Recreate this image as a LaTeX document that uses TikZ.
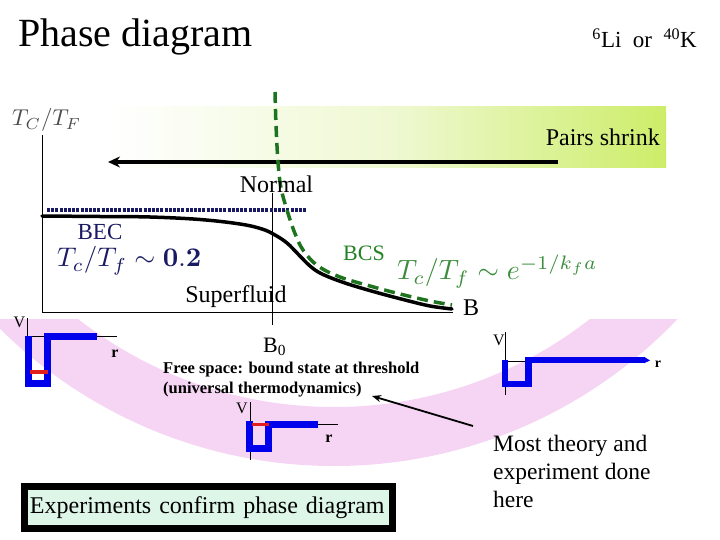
\RequirePackage{fix-cm}
\documentclass[tikz,border=0pt]{standalone}
\usepackage[no-math]{fontspec}
\setmainfont{Liberation Serif}
\usetikzlibrary{arrows.meta}
\definecolor{pinkband}{RGB}{245,213,243}
\definecolor{bandmid}{RGB}{238,248,208}
\definecolor{bandgreen}{RGB}{205,237,105}
\definecolor{navy}{RGB}{25,25,100}
\definecolor{dgreen}{RGB}{30,115,30}
\definecolor{bcsgreen}{RGB}{35,130,35}
\definecolor{mathgreen}{RGB}{60,140,60}
\definecolor{wellblue}{RGB}{0,0,235}
\definecolor{wellred}{RGB}{225,30,30}
\definecolor{mint}{RGB}{222,246,232}
\newcommand\fsz[2]{\fontsize{#1bp}{#2bp}\selectfont}
\newcommand\bigmath[2]{\scalebox{#1}{\fontsize{10pt}{12pt}\selectfont$#2$}}
\tikzset{
  lbl/.style={inner sep=0pt, anchor=base west},
  lblc/.style={inner sep=0pt, anchor=base},
  thin axis/.style={line width=0.8bp, black},
  well/.style={draw=wellblue, line width=7bp, line cap=butt, line join=miter},
  boundlevel/.style={draw=wellred, line width=3.5bp},
}
\begin{document}
\begin{tikzpicture}[x=1bp,y=-1bp]
\useasboundingbox (0,0) rectangle (720,540);
% pink band
\begin{scope}
  \clip (0,319) rectangle (720,540);
  \fill[pinkband,even odd rule] (334,-9) circle[radius=475bp] (334,-9) circle[radius=416bp];
\end{scope}
% green gradient band
\shade[left color=white,right color=bandmid] (110,107) rectangle (401,168);
\shade[left color=bandmid,right color=bandgreen] (400,107) rectangle (666,168);
% titles
\node[lbl,font=\fsz{40}{46}] (title) at (18,47) {Phase diagram};
\node[inner sep=0pt,anchor=base east,font=\fsz{23}{26}] (species) at (697,48) {\textsuperscript{6}Li\ \ or\ \ \textsuperscript{40}K};
% axes
\coordinate (ytop) at (42,135);
\coordinate (orig) at (42,312);
\coordinate (xend) at (453,312);
\draw[line width=1bp] (ytop) -- (orig) -- (xend);
\node[lbl,text=black!70] (ylab) at (12,126) {\bigmath{2.3}{T_C/T_F}};
\node[lbl,font=\fsz{24}{28}] (blab) at (463,315) {B};
% B0 line
\coordinate (b0top) at (272,193);
\coordinate (b0bot) at (272,325);
\draw[line width=0.8bp] (b0top) -- (b0bot);
\node[lbl,font=\fsz{22}{26}] (b0) at (263,352) {B\textsubscript{0}};
% big arrow
\coordinate (arrS) at (558,162);
\coordinate (arrE) at (108,162);
\draw[line width=4.5bp,-{Stealth[length=12bp,width=11bp]}] (arrS) -- (arrE);
\node[inner sep=0pt,anchor=base east,font=\fsz{24}{28}] (pairs) at (660,146) {Pairs shrink};
% dotted line
\coordinate (dotS) at (47,210);
\coordinate (dotE) at (307,210);
\draw[navy,line width=3.5bp,dash pattern=on 3bp off 1.2bp] (dotS) -- (dotE);
% Tc curve
\draw[line width=3.5bp,line cap=round] plot[smooth,tension=0.6] coordinates {(42,216) (100,216.5) (150,217) (200,219.5) (240,224) (262,229) (275,235) (287,243) (298,254) (310,266) (322,274) (345,283) (375,292) (405,300) (430,306) (452,309)};
% BCS dashed curve
\draw[dgreen,line width=3.5bp,dash pattern=on 11bp off 6bp] plot[smooth,tension=0.6] coordinates {(275,92) (276,125) (278,162) (281,188) (287,210) (294,231) (303,250) (318,266) (340,277) (370,286) (400,294) (430,301) (452,305)};
% phase labels
\node[lblc,font=\fsz{24}{28}] (normal) at (276.5,193) {Normal};
\node[lblc,font=\fsz{23}{26},text=navy] (bec) at (100,240) {BEC};
\node[lbl,text=navy] (becf) at (57,267) {\bigmath{2.7}{T_c/T_f\sim \mathbf{0.2}}};
\node[lbl,font=\fsz{22}{26},text=bcsgreen] (bcs) at (343,261) {BCS};
\node[lbl,text=mathgreen] (bcsf) at (397,280) {\bigmath{2.8}{T_c/T_f\sim e^{-1/k_f a}}};
\node[lblc,font=\fsz{24}{28}] (sf) at (236,302) {Superfluid};
% well 1 (left)
\draw[thin axis] (27,318) -- (27,387);
\draw[thin axis] (27,336) -- (117,336);
\draw[well] (28,336) -- (28,383) -- (47,383) -- (47,336) -- (97,336);
\draw[boundlevel] (30,372) -- (48,372);
\node[lblc,font=\fsz{16}{18}] (v1) at (19.5,327) {V};
\node[lblc,font=\fsz{16}{18}\bfseries] (r1) at (115,357) {r};
% well 2 (middle)
\draw[thin axis] (250,402) -- (250,460);
\draw[thin axis] (250,424) -- (338,424);
\draw[well] (249.5,421) -- (249.5,448.5) -- (268.5,448.5) -- (268.5,424.5) -- (318,424.5);
\draw[boundlevel] (252,424.5) -- (269,424.5);
\node[lblc,font=\fsz{16}{18}] (v2) at (242,413) {V};
\node[lblc,font=\fsz{16}{18}\bfseries] (r2) at (329,442) {r};
% well 3 (right)
\draw[thin axis] (505,332) -- (505,395);
\draw[thin axis] (505,361) -- (526,361);
\draw[well,line width=6.5bp] (505,360) -- (505,384) -- (528.5,384) -- (528.5,360) -- (645,360);
\fill[wellblue] (644,356.75) -- (650,360.5) -- (644,363.25) -- cycle;
\node[lblc,font=\fsz{16}{18}] (v3) at (499,345) {V};
\node[lblc,font=\fsz{14}{16}\bfseries] (r3) at (658,367) {r};
% free space text
\node[inner sep=0pt,anchor=north west,align=left,font=\fsz{16.5}{20}\bfseries] (free) at (163,361.5) {Free space: bound state at threshold\\(universal thermodynamics)};
% most theory text
\node[inner sep=0pt,anchor=north west,align=left,font=\fsz{23.5}{28}] (most) at (493,435) {Most theory and\\experiment done\\here};
\coordinate (arT) at (473,426);
\coordinate (arH) at (372,396);
\draw[line width=1.8bp,-{Stealth[length=9bp,width=7bp]}] (arT) -- (arH);
% experiments box
\node[draw,line width=7bp,fill=mint,minimum height=42bp,text width=357bp,inner xsep=5.5bp,inner ysep=0pt,align=left,font=\fsz{24}{28}] (exp) at (208.5,507.5) {Experiments confirm phase diagram};
\end{tikzpicture}
\end{document}
